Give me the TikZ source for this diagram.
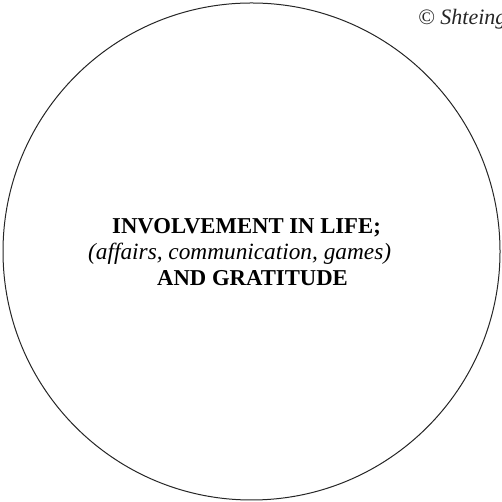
\documentclass[tikz,border=0pt]{standalone}
\usepackage{fontspec}
\setmainfont{Liberation Serif}
\begin{document}
\begin{tikzpicture}[x=1pt,y=1pt,
  txt/.style={inner sep=0pt, anchor=base west, text=black},
  boldtxt/.style={txt, font=\fontsize{22.7}{26}\selectfont\bfseries},
  ittxt/.style={txt, font=\fontsize{23.3}{26}\selectfont\itshape}]
\useasboundingbox (0,0) rectangle (502,502);
\draw[line width=1pt, draw=black!85] (251.5,250.5) circle (248.5);
\node[boldtxt] (l1) at (112,268) {INVOLVEMENT IN LIFE;};
\node[ittxt] (l2) at (88,242) {(affairs, communication, games)};
\node[boldtxt] (l3) at (157,216) {AND GRATITUDE};
\node[txt, font=\fontsize{22}{26}\selectfont\itshape, text=black!85] (copy) at (418,477) {© Shteing};
\end{tikzpicture}
\end{document}
